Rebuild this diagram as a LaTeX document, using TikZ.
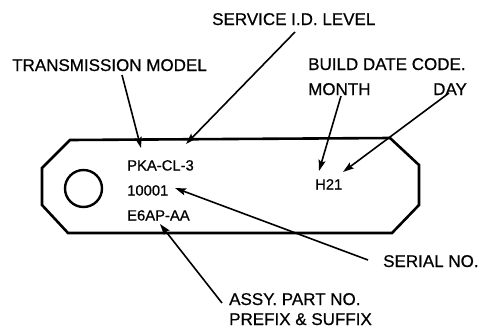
\documentclass[tikz,border=0pt]{standalone}
\usepackage{fontspec}
\setmainfont[FakeBold=0.6]{Liberation Sans}
\usetikzlibrary{arrows.meta}
\begin{document}
\begin{tikzpicture}[x=1pt,y=-1pt,
  lbl/.style={anchor=base west,inner sep=0pt,font=\fontsize{17}{20}\selectfont},
  tagtxt/.style={anchor=base west,inner sep=0pt,font=\fontsize{14.8}{18}\selectfont},
  ptr/.style={line width=1.6pt,-{Stealth[length=11pt,width=7pt,inset=2pt]}},
  tagline/.style={line width=2.6pt,line join=miter}]
\useasboundingbox (0,0) rectangle (483,330);
\draw[tagline] (70,140) -- (390,138) -- (419,165) -- (419,205) -- (392,233) -- (68,233) -- (42,205) -- (42,168) -- cycle;
\node[draw,circle,line width=2.4pt,minimum size=37pt,inner sep=0pt] (hole) at (83.5,188.5) {};
\node[lbl] (sid) at (212,25) {SERVICE I.D. LEVEL};
\node[lbl] (tm) at (12,71) {TRANSMISSION MODEL};
\node[lbl] (bdc) at (308,70) {BUILD DATE CODE.};
\node[lbl] (mon) at (308,95) {MONTH};
\node[lbl] (day) at (433,95) {DAY};
\node[tagtxt] (pka) at (127,170.5) {PKA-CL-3};
\node[tagtxt] (ser) at (127,195.5) {10001};
\node[tagtxt] (e6) at (127,220.5) {E6AP-AA};
\node[tagtxt] (h21) at (315,189.5) {H21};
\node[lbl] (serno) at (383,267) {SERIAL NO.};
\node[lbl] (assy) at (229,305) {ASSY. PART NO.};
\node[lbl] (pre) at (229,325) {PREFIX \& SUFFIX};
\coordinate (tmS) at (122,75); \coordinate (tmT) at (141,148);
\coordinate (sidS) at (295,32); \coordinate (sidT) at (186,144);
\coordinate (monS) at (341,96); \coordinate (monT) at (319,171);
\coordinate (dayS) at (449,93); \coordinate (dayT) at (343,172);
\coordinate (serS) at (368,260); \coordinate (serT) at (175,188);
\coordinate (assyS) at (222,303); \coordinate (assyT) at (160,224);
\draw[ptr] (tmS) -- (tmT);
\draw[ptr] (sidS) -- (sidT);
\draw[ptr] (monS) -- (monT);
\draw[ptr] (dayS) -- (dayT);
\draw[ptr] (serS) -- (serT);
\draw[ptr] (assyS) -- (assyT);
\end{tikzpicture}
\end{document}
